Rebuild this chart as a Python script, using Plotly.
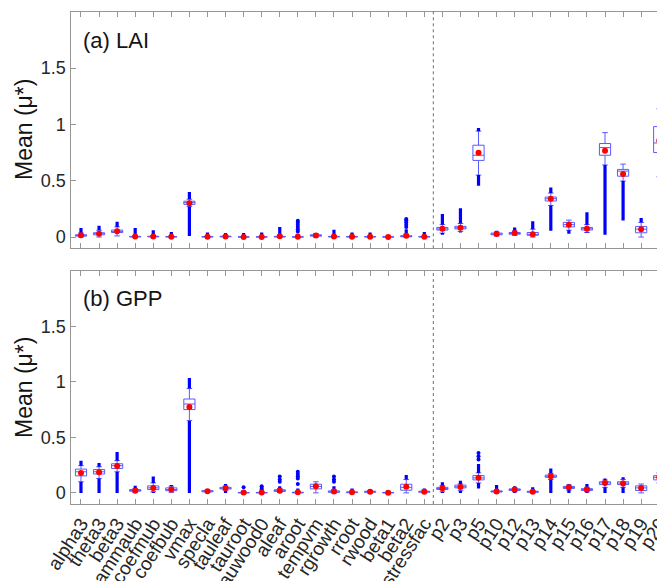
import plotly.graph_objects as go

cats = ["alpha3", "theta3", "beta3", "gammaub", "coefmub", "coefbub", "vmax", "specla",
        "tauleaf", "tauroot", "tauwood0", "aleaf", "aroot", "tempvm", "rgrowth", "rroot",
        "rwood", "beta1", "beta2", "stressfac", "p2", "p3", "p5", "p10", "p12", "p13",
        "p14", "p15", "p16", "p17", "p18", "p19", "p20"]

# ---------------- (a) LAI ----------------
lai_q1 = [0.008, 0.02, 0.04, 0.001, 0.002, 0.001, 0.29, 0.001, 0.002, 0.0, 0.0, 0.001, 0.0,
          0.008, 0.001, 0.001, 0.001, 0.0, 0.002, 0.001, 0.062, 0.072, 0.68, 0.02, 0.025,
          0.015, 0.32, 0.09, 0.063, 0.726, 0.54, 0.038, 0.75]
lai_med = [0.013, 0.028, 0.05, 0.003, 0.004, 0.002, 0.305, 0.002, 0.004, 0.001, 0.001, 0.003,
           0.001, 0.013, 0.003, 0.002, 0.002, 0.001, 0.006, 0.002, 0.072, 0.082, 0.726, 0.026,
           0.032, 0.022, 0.34, 0.11, 0.073, 0.794, 0.585, 0.07, 0.835]
lai_q3 = [0.02, 0.038, 0.062, 0.006, 0.007, 0.004, 0.318, 0.004, 0.007, 0.002, 0.002, 0.006,
          0.002, 0.02, 0.006, 0.004, 0.004, 0.002, 0.012, 0.004, 0.085, 0.095, 0.815, 0.035,
          0.04, 0.04, 0.355, 0.13, 0.085, 0.83, 0.60, 0.094, 0.98]
lai_wlo = [0.0, 0.0, 0.01, 0.0, 0.0, 0.0, 0.27, 0.0, 0.0, 0.0, 0.0, 0.0, 0.0, 0.0, 0.0, 0.0,
           0.0, 0.0, 0.0, 0.0, 0.035, 0.05, 0.55, 0.01, 0.015, 0.0, 0.28, 0.06, 0.04, 0.64,
           0.497, 0.0, 0.535]
lai_whi = [0.035, 0.06, 0.09, 0.012, 0.014, 0.008, 0.335, 0.008, 0.012, 0.004, 0.004, 0.012,
           0.004, 0.03, 0.012, 0.008, 0.008, 0.004, 0.025, 0.008, 0.11, 0.12, 0.94, 0.045,
           0.055, 0.07, 0.39, 0.15, 0.11, 0.927, 0.647, 0.13, 1.138]
lai_mean = [0.015, 0.03, 0.052, 0.005, 0.005, 0.003, 0.30, 0.003, 0.005, 0.001, 0.001, 0.006,
            0.002, 0.013, 0.005, 0.003, 0.003, 0.001, 0.012, 0.002, 0.073, 0.082, 0.747, 0.026,
            0.035, 0.025, 0.34, 0.11, 0.073, 0.765, 0.56, 0.068, 0.856]
lai_out_up = [0.08, 0.10, 0.135, 0.08, 0.06, 0.045, 0.40, 0.04, 0.035, 0.035, 0.04, 0.09,
              0.03, None, 0.065, 0.04, 0.04, None, 0.07, 0.045, 0.205, 0.255, 0.967, 0.055,
              0.085, 0.14, 0.44, None, 0.22, None, None, 0.17, None]
lai_out_dn = [None, None, None, None, None, None, 0.01, None, None, None, None, None, None,
              None, None, None, None, None, None, None, 0.02, 0.04, 0.455, 0.01, None, None,
              0.055, 0.03, 0.035, 0.02, 0.147, None, 0.367]
lai_extra = {"aroot": [0.05, 0.07, 0.09, 0.11, 0.13, 0.145],
             "beta2": [0.09, 0.11, 0.13, 0.15, 0.16],
             "p20": [0.31]}

# ---------------- (b) GPP ----------------
gpp_q1 = [0.153, 0.17, 0.22, 0.015, 0.03, 0.02, 0.75, 0.01, 0.035, 0.0, 0.0, 0.013, 0.0,
          0.036, 0.005, 0.002, 0.005, 0.0, 0.024, 0.006, 0.03, 0.045, 0.117, 0.008, 0.022,
          0.005, 0.14, 0.04, 0.022, 0.075, 0.075, 0.021, 0.117]
gpp_med = [0.19, 0.19, 0.245, 0.02, 0.045, 0.03, 0.80, 0.015, 0.042, 0.002, 0.002, 0.02,
           0.003, 0.058, 0.01, 0.005, 0.01, 0.002, 0.05, 0.01, 0.04, 0.055, 0.135, 0.012,
           0.03, 0.01, 0.15, 0.05, 0.03, 0.09, 0.088, 0.045, 0.14]
gpp_q3 = [0.214, 0.21, 0.262, 0.03, 0.063, 0.045, 0.845, 0.02, 0.05, 0.004, 0.004, 0.028,
          0.006, 0.078, 0.018, 0.009, 0.015, 0.004, 0.078, 0.015, 0.05, 0.07, 0.156, 0.018,
          0.036, 0.015, 0.16, 0.058, 0.038, 0.10, 0.10, 0.063, 0.155]
gpp_wlo = [0.10, 0.13, 0.19, 0.005, 0.01, 0.005, 0.65, 0.005, 0.02, 0.0, 0.0, 0.005, 0.0,
           0.0, 0.0, 0.0, 0.0, 0.0, 0.0, 0.0, 0.01, 0.02, 0.09, 0.0, 0.01, 0.0, 0.12, 0.025,
           0.01, 0.05, 0.05, 0.0, 0.09]
gpp_whi = [0.245, 0.235, 0.29, 0.04, 0.09, 0.06, 0.94, 0.025, 0.06, 0.008, 0.008, 0.04,
           0.012, 0.10, 0.03, 0.015, 0.02, 0.006, 0.12, 0.025, 0.065, 0.08, 0.18, 0.025,
           0.045, 0.02, 0.175, 0.07, 0.05, 0.115, 0.12, 0.08, 0.18]
gpp_mean = [0.178, 0.185, 0.243, 0.02, 0.045, 0.03, 0.773, 0.015, 0.045, 0.003, 0.003, 0.02,
            0.005, 0.06, 0.012, 0.006, 0.01, 0.002, 0.055, 0.01, 0.042, 0.054, 0.137, 0.012,
            0.03, 0.01, 0.15, 0.05, 0.03, 0.09, 0.085, 0.045, 0.14]
gpp_out_up = [0.29, 0.27, 0.367, 0.065, 0.147, 0.07, 1.035, None, 0.08, None, None, 0.06,
              0.04, None, 0.06, 0.04, 0.035, None, 0.16, 0.04, 0.096, 0.11, 0.26, 0.07,
              0.06, 0.05, 0.22, 0.08, 0.08, 0.13, 0.14, None, 0.25]
gpp_out_dn = [0.0, 0.0, 0.0, 0.0, 0.0, None, 0.0, None, 0.0, None, None, None, None, None,
              None, None, None, None, None, None, 0.0, 0.0, 0.04, None, 0.0, None, 0.0, 0.0,
              0.0, 0.0, 0.0, None, 0.0]
gpp_extra = {"tauroot": [0.05],
             "tauwood0": [0.03, 0.045, 0.06],
             "aleaf": [0.10, 0.12, 0.147],
             "aroot": [0.08, 0.13, 0.15, 0.17, 0.19],
             "rgrowth": [0.10, 0.12, 0.147],
             "p5": [0.30, 0.33, 0.358],
             "p20": [0.28, 0.298]}

BOX_COL = "rgb(90,90,255)"
OUT_COL = "rgb(0,0,255)"
MEAN_COL = "rgb(255,0,0)"
AX_COL = "rgb(150,150,150)"
TXT_COL = "rgb(38,38,38)"
FONT = "Liberation Sans, Arial, sans-serif"

fig = go.Figure()


def add_panel(q1, med, q3, wlo, whi, mean, out_up, out_dn, extra, xa, ya):
    fig.add_trace(go.Box(
        x=cats, q1=q1, median=med, q3=q3, lowerfence=wlo, upperfence=whi,
        xaxis=xa, yaxis=ya, width=0.62, whiskerwidth=0.5,
        line=dict(color=BOX_COL, width=1), fillcolor="rgba(255,255,255,0)",
        boxpoints=False, showlegend=False, hoverinfo="skip"))
    xs, ys = [], []
    for c, w_hi, o_up, w_lo, o_dn in zip(cats, whi, out_up, wlo, out_dn):
        if o_up is not None:
            xs += [c, c, None]
            ys += [w_hi, o_up, None]
        if o_dn is not None:
            xs += [c, c, None]
            ys += [o_dn, w_lo, None]
    fig.add_trace(go.Scatter(x=xs, y=ys, mode="lines", xaxis=xa, yaxis=ya,
                             line=dict(color=OUT_COL, width=3.2), showlegend=False,
                             hoverinfo="skip", connectgaps=False))
    ex, ey = [], []
    for c, vals in extra.items():
        ex += [c] * len(vals)
        ey += vals
    fig.add_trace(go.Scatter(x=ex, y=ey, mode="markers", xaxis=xa, yaxis=ya,
                             marker=dict(color=OUT_COL, size=4), showlegend=False,
                             hoverinfo="skip"))
    fig.add_trace(go.Scatter(x=cats, y=mean, mode="markers", xaxis=xa, yaxis=ya,
                             marker=dict(color=MEAN_COL, size=6), showlegend=False))


add_panel(lai_q1, lai_med, lai_q3, lai_wlo, lai_whi, lai_mean, lai_out_up, lai_out_dn,
          lai_extra, "x", "y")
add_panel(gpp_q1, gpp_med, gpp_q3, gpp_wlo, gpp_whi, gpp_mean, gpp_out_up, gpp_out_dn,
          gpp_extra, "x2", "y2")

# the page body adds an 8 px offset; layout positions below are reference pixels minus it
OFF = 8
W, H = 665 - OFF, 581 - OFF


def px(xr):
    return (xr - OFF) / W


def py(yr):
    return (H - (yr - OFF)) / H


xdom = [px(70.5), 1.0]
ydom1 = [py(248.3), py(11.7)]
ydom2 = [py(504.0), py(270.7)]

xcommon = dict(type="category", categoryorder="array", categoryarray=cats,
               tickmode="array", tickvals=cats, ticktext=cats,
               range=[-0.58, 32.32], domain=xdom, showgrid=False,
               zeroline=False, ticks="inside", ticklen=5, tickcolor=AX_COL, showline=True,
               linecolor=AX_COL, linewidth=1.3, mirror="ticks", automargin=False,
               tickfont=dict(family=FONT, size=19, color=TXT_COL))
ycommon = dict(range=[-0.1, 2.0], tickvals=[0, 0.5, 1, 1.5], ticktext=["0", "0.5", "1", "1.5"],
               showgrid=False, zeroline=False, ticks="inside", ticklen=5, tickcolor=AX_COL,
               showline=True, linecolor=AX_COL, linewidth=1.3, automargin=False,
               tickfont=dict(family=FONT, size=18, color=TXT_COL))

fig.update_layout(
    width=W, height=H, margin=dict(l=0, r=0, t=0, b=0),
    paper_bgcolor="white", plot_bgcolor="white",
    xaxis=dict(xcommon, anchor="y", showticklabels=False),
    yaxis=dict(ycommon, domain=ydom1, anchor="x"),
    xaxis2=dict(xcommon, anchor="y2", tickangle=-57),
    yaxis2=dict(ycommon, domain=ydom2, anchor="x2"),
    font=dict(family=FONT, color=TXT_COL),
    shapes=[
        dict(type="line", xref="x", yref="y domain", x0=19.5, x1=19.5, y0=0, y1=1,
             line=dict(color="rgb(110,110,110)", width=1, dash="dot")),
        dict(type="line", xref="x2", yref="y2 domain", x0=19.5, x1=19.5, y0=0, y1=1,
             line=dict(color="rgb(110,110,110)", width=1, dash="dot")),
    ],
    annotations=[
        dict(text="(a) LAI", xref="paper", yref="paper", x=px(81), y=py(40),
             xanchor="left", yanchor="middle", showarrow=False,
             font=dict(family=FONT, size=22, color="rgb(20,20,20)")),
        dict(text="(b) GPP", xref="paper", yref="paper", x=px(81), y=py(298),
             xanchor="left", yanchor="middle", showarrow=False,
             font=dict(family=FONT, size=22, color="rgb(20,20,20)")),
        dict(text="Mean (μ*)", xref="paper", yref="paper", x=px(24), y=py(130),
             xanchor="center", yanchor="middle", textangle=-90, showarrow=False,
             font=dict(family=FONT, size=23, color="rgb(20,20,20)")),
        dict(text="Mean (μ*)", xref="paper", yref="paper", x=px(24), y=py(388),
             xanchor="center", yanchor="middle", textangle=-90, showarrow=False,
             font=dict(family=FONT, size=23, color="rgb(20,20,20)")),
    ],
)

fig.write_html("out.html")
